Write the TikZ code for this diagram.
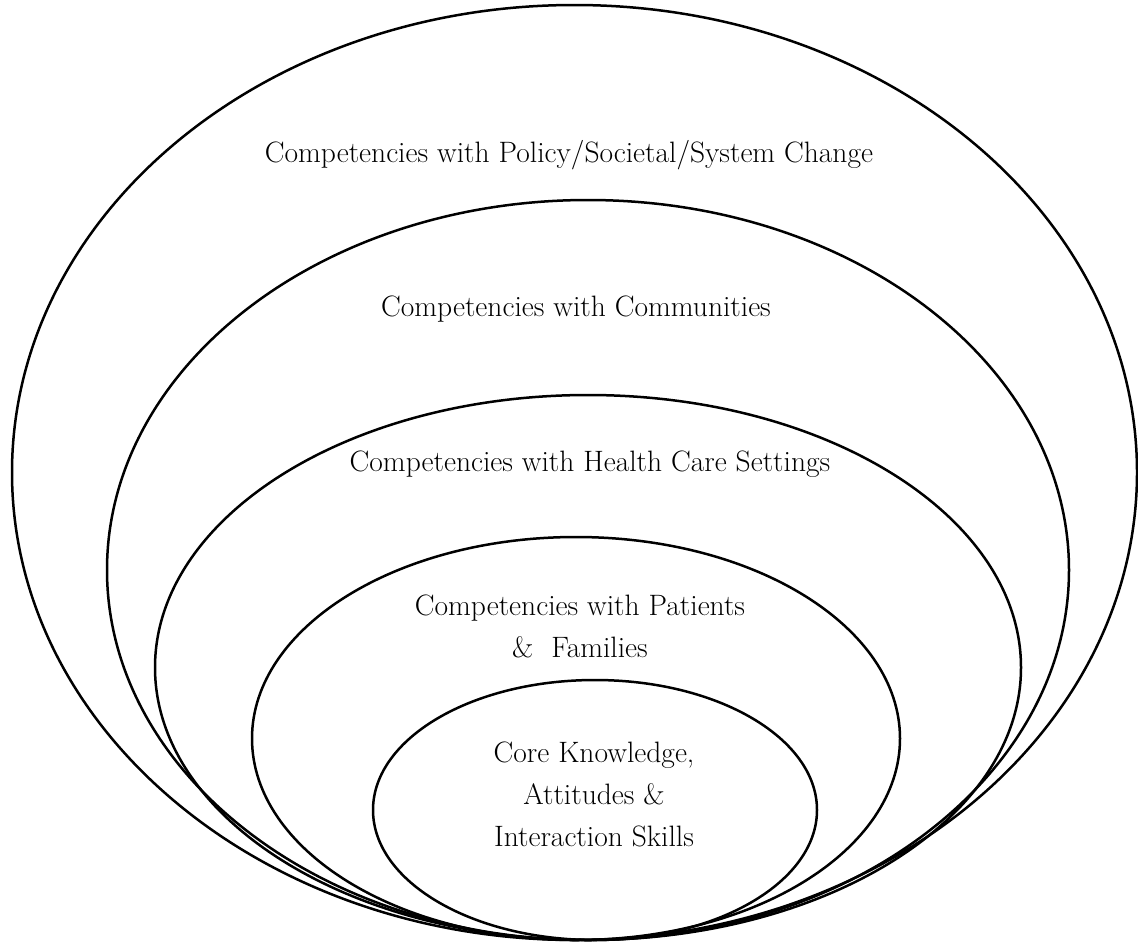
\documentclass[tikz,border=0pt]{standalone}
\usepackage{tikz}
\usetikzlibrary{positioning}

\begin{document}
\begin{tikzpicture}[x=1pt, y=-1pt, line width=2.5pt,
  lbl/.style = {align=center, inner sep=0pt, font=\fontsize{29.5}{42}\selectfont}]
\useasboundingbox (0,0) rectangle (1138,943);
% nested rings, all resting on the same bottom point
\foreach \cx/\cy/\rx/\ry in {
574.5/472.5/562.5/467.5, 588/570/481/370, 588/667.5/433/272.5, 576/738.5/324/201.5, 595/810/222/130}{
\draw (\cx,\cy) ellipse [x radius=\rx, y radius=\ry];
}
\node[lbl] (policy) at (569,155) {Competencies with Policy/Societal/System Change};
\node[lbl] (comm) at (576,309) {Competencies with Communities};
\node[lbl] (care) at (590,464) {Competencies with Health Care Settings};
\node[lbl] (patients) at (580,626) {Competencies with Patients\\\&\ \ Families};
\node[lbl] (core) at (594,794) {Core Knowledge,\\Attitudes \&\\Interaction Skills};
\end{tikzpicture}
\end{document}
